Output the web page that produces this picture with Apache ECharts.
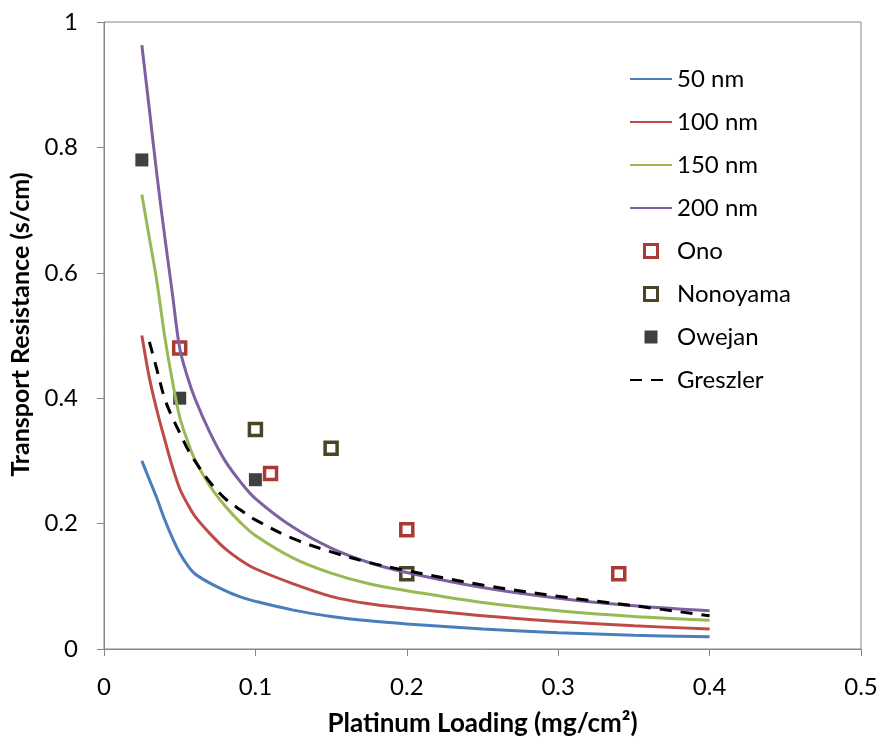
<!DOCTYPE html>
<html>
<head>
<meta charset="utf-8">
<title>Transport Resistance vs Platinum Loading</title>
<script src="https://cdn.jsdelivr.net/npm/echarts@6/dist/echarts.min.js"></script>
<style>
    html, body { margin: 0; padding: 0; background: #fff; }
    #main { width: 881px; height: 742px; }
</style>
</head>
<body>
<div id="main"></div>
<script type="text/javascript">
    // values
    var loading = [0.025, 0.03, 0.035, 0.04, 0.045, 0.05, 0.055, 0.06, 0.07, 0.08, 0.09, 0.1, 0.125, 0.15, 0.175, 0.2, 0.25, 0.3, 0.35, 0.4];
    var nm50  = [0.30, 0.27, 0.24, 0.207, 0.178, 0.153, 0.134, 0.12, 0.105, 0.093, 0.083, 0.076, 0.062, 0.052, 0.045, 0.040, 0.032, 0.026, 0.022, 0.0195];
    var nm100 = [0.50, 0.432, 0.38, 0.335, 0.292, 0.256, 0.232, 0.212, 0.184, 0.16, 0.142, 0.128, 0.104, 0.084, 0.072, 0.065, 0.053, 0.044, 0.037, 0.032];
    var nm150 = [0.725, 0.655, 0.585, 0.50, 0.43, 0.37, 0.333, 0.302, 0.26, 0.228, 0.202, 0.181, 0.145, 0.121, 0.104, 0.093, 0.074, 0.061, 0.052, 0.046];
    var nm200 = [0.963, 0.86, 0.755, 0.66, 0.57, 0.48, 0.435, 0.40, 0.345, 0.30, 0.267, 0.24, 0.194, 0.161, 0.138, 0.122, 0.098, 0.081, 0.069, 0.061];

    var greszlerLoading = [0.03, 0.035, 0.04, 0.045, 0.05, 0.055, 0.06, 0.07, 0.08, 0.09, 0.1, 0.125, 0.15, 0.175, 0.2, 0.25, 0.3, 0.35, 0.4];
    var greszler = [0.49, 0.445, 0.40, 0.37, 0.345, 0.32, 0.30, 0.266, 0.24, 0.222, 0.206, 0.176, 0.155, 0.138, 0.125, 0.102, 0.084, 0.069, 0.053];

    var onoX = [0.05, 0.11, 0.2, 0.34];
    var onoY = [0.48, 0.28, 0.19, 0.12];
    var nonoyamaX = [0.1, 0.15, 0.2];
    var nonoyamaY = [0.35, 0.32, 0.12];
    var owejanX = [0.025, 0.05, 0.1];
    var owejanY = [0.78, 0.40, 0.27];

    var xTicks = [0, 0.1, 0.2, 0.3, 0.4, 0.5];
    var yTicks = [0, 0.2, 0.4, 0.6, 0.8, 1];

    function pairs(xs, ys) {
        var out = [];
        for (var i = 0; i < xs.length; i++) {
            out.push([xs[i], ys[i]]);
        }
        return out;
    }

    var font = 'Lato, "Open Sans", sans-serif';
    var squareIcon = 'path://M0,0L10,0L10,10L0,10Z';

    function curve(name, ys, color) {
        return {
            name: name,
            type: 'line',
            data: pairs(loading, ys),
            symbol: 'none',
            smooth: 0.35,
            lineStyle: { color: color, width: 3 },
            itemStyle: { color: color }
        };
    }

    var myChart = echarts.init(document.getElementById('main'));
    myChart.setOption({
        animation: false,
        textStyle: { fontFamily: font },
        grid: {
            left: 104,
            right: 20,
            top: 22,
            bottom: 87,
            show: true,
            borderColor: '#868686',
            borderWidth: 1
        },
        legend: {
            orient: 'vertical',
            left: 624,
            top: 62,
            itemWidth: 42,
            itemHeight: 13,
            itemGap: 19,
            textStyle: { fontSize: 24, lineHeight: 24, color: '#000', fontFamily: font },
            data: [
                // line entries: hide the dot that ECharts puts on line icons
                { name: '50 nm', itemStyle: { opacity: 0 } },
                { name: '100 nm', itemStyle: { opacity: 0 } },
                { name: '150 nm', itemStyle: { opacity: 0 } },
                { name: '200 nm', itemStyle: { opacity: 0 } },
                { name: 'Ono', icon: squareIcon, itemStyle: { borderWidth: 3 } },
                { name: 'Nonoyama', icon: squareIcon, itemStyle: { borderWidth: 3 } },
                { name: 'Owejan', icon: squareIcon },
                { name: 'Greszler', itemStyle: { opacity: 0 } }
            ]
        },
        xAxis: {
            type: 'value',
            min: xTicks[0],
            max: xTicks[xTicks.length - 1],
            interval: 0.1,
            name: 'Platinum Loading (mg/cm²)',
            nameLocation: 'middle',
            nameGap: 62,
            nameTextStyle: { fontSize: 26, fontWeight: 'bold', color: '#000', fontFamily: font },
            axisLine: { lineStyle: { color: '#868686', width: 1 } },
            axisTick: { show: true, inside: false, length: 7, lineStyle: { color: '#868686' } },
            axisLabel: { fontSize: 24, color: '#000', margin: 26 },
            splitLine: { show: false }
        },
        yAxis: {
            type: 'value',
            min: yTicks[0],
            max: yTicks[yTicks.length - 1],
            interval: 0.2,
            name: 'Transport Resistance (s/cm)',
            nameLocation: 'middle',
            nameGap: 67,
            nameTextStyle: { fontSize: 25, fontWeight: 'bold', color: '#000', fontFamily: font, padding: [0, 0, 0, 22] },
            axisLine: { show: true, lineStyle: { color: '#868686', width: 1 } },
            axisTick: { show: true, inside: false, length: 7, lineStyle: { color: '#868686' } },
            axisLabel: { fontSize: 24, color: '#000', margin: 26 },
            splitLine: { show: false }
        },
        series: [
            curve('50 nm', nm50, '#4A7EBB'),
            curve('100 nm', nm100, '#BE4B48'),
            curve('150 nm', nm150, '#98B954'),
            curve('200 nm', nm200, '#7D60A0'),
            {
                name: 'Ono',
                type: 'scatter',
                data: pairs(onoX, onoY),
                symbol: 'rect',
                symbolSize: 12,
                itemStyle: { color: '#fff', borderColor: '#A93A36', borderWidth: 3.5, opacity: 1 }
            },
            {
                name: 'Nonoyama',
                type: 'scatter',
                data: pairs(nonoyamaX, nonoyamaY),
                symbol: 'rect',
                symbolSize: 12,
                itemStyle: { color: '#fff', borderColor: '#4A4526', borderWidth: 3.5, opacity: 1 }
            },
            {
                name: 'Owejan',
                type: 'scatter',
                data: pairs(owejanX, owejanY),
                symbol: 'rect',
                symbolSize: 13,
                itemStyle: { color: '#404040', opacity: 1 }
            },
            {
                name: 'Greszler',
                type: 'line',
                data: pairs(greszlerLoading, greszler),
                symbol: 'none',
                smooth: 0.35,
                lineStyle: { color: '#000', width: 3, type: [12, 9] },
                itemStyle: { color: '#000' }
            }
        ]
    });
</script>
</body>
</html>
